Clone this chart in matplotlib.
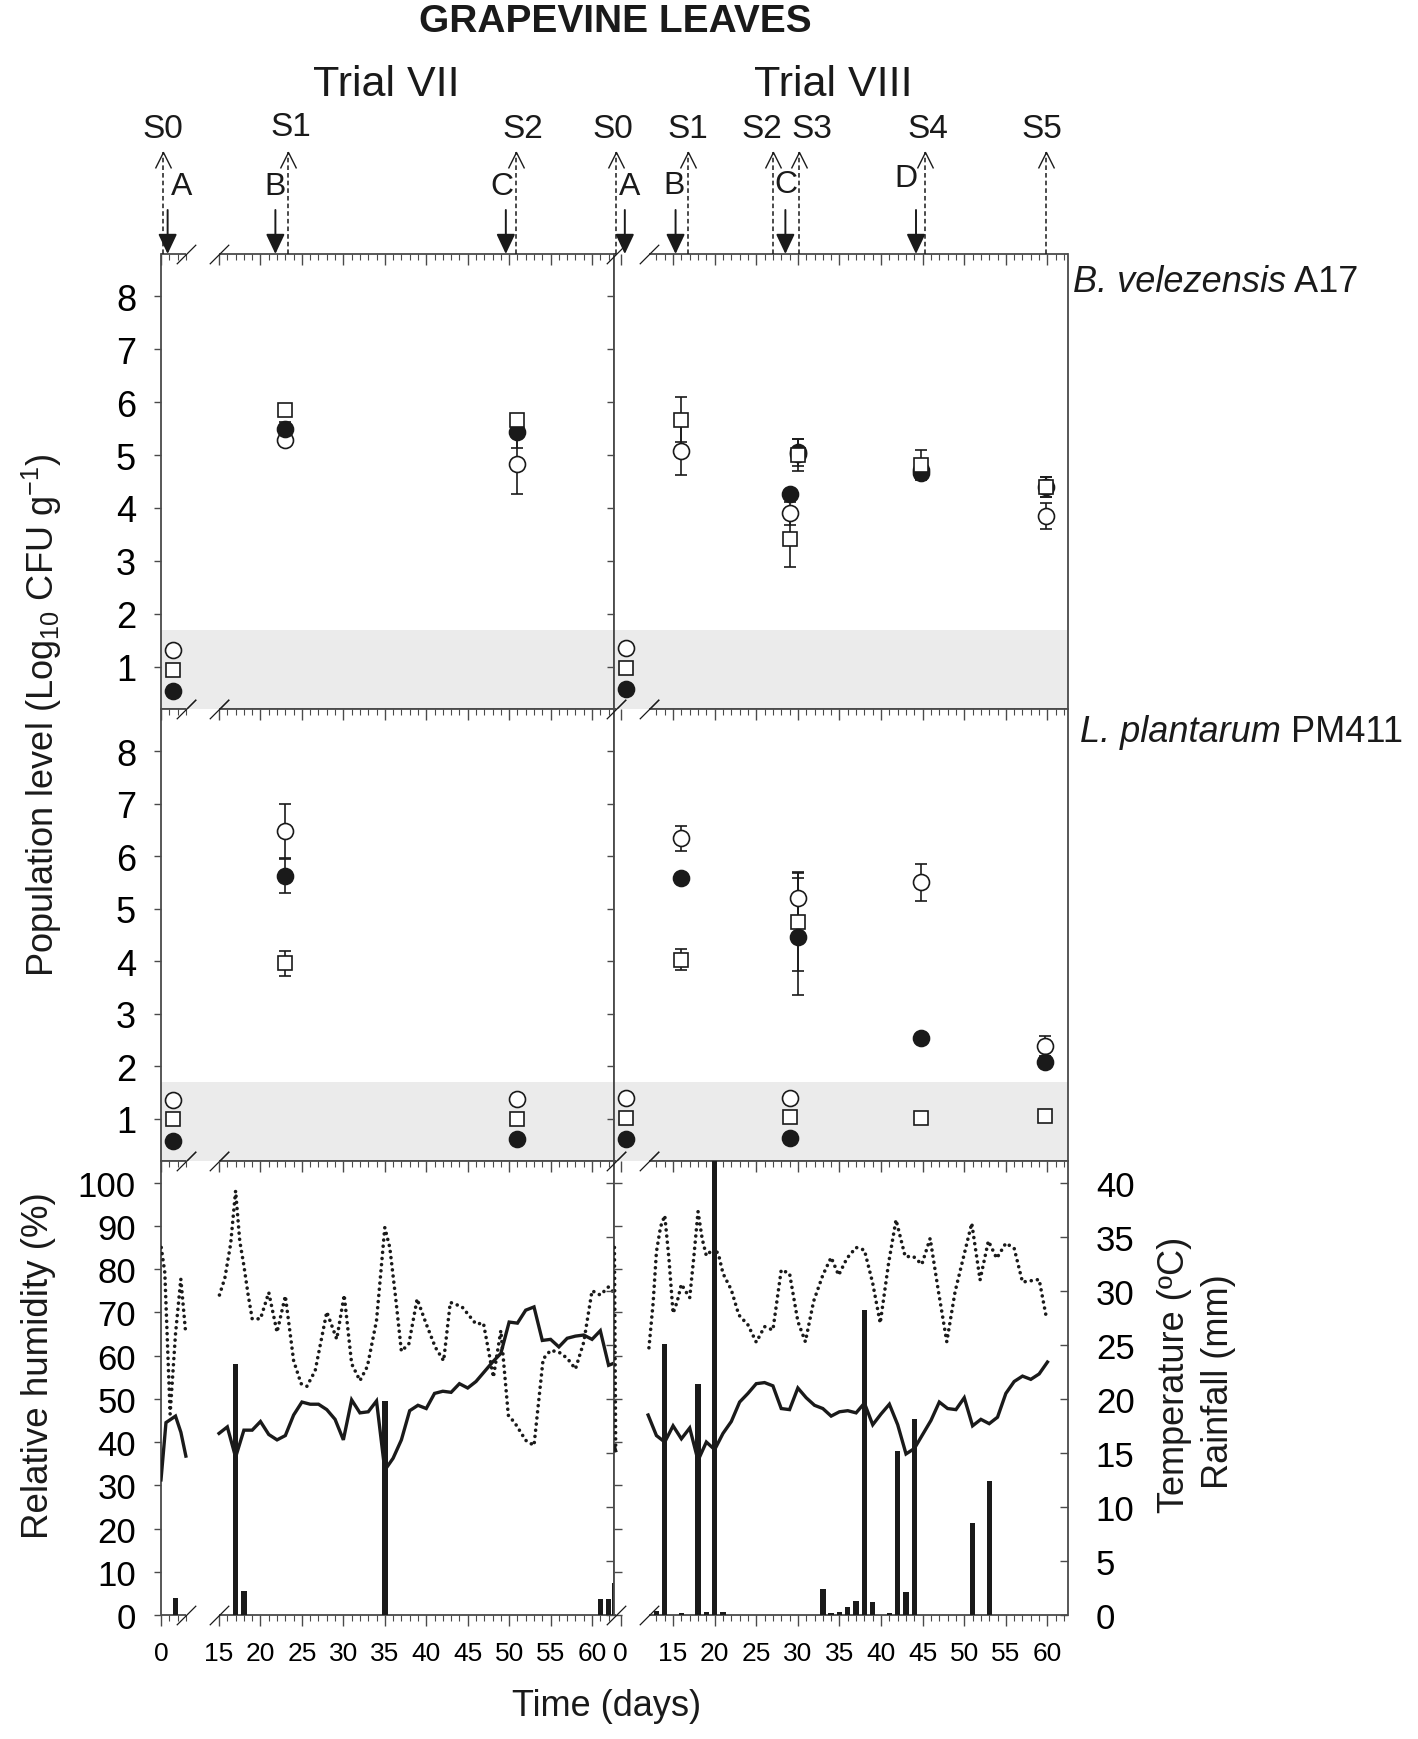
import numpy as np
import matplotlib
matplotlib.use("Agg")
import matplotlib.pyplot as plt
from matplotlib.transforms import offset_copy

plt.rcParams['font.family'] = ['Liberation Sans', 'DejaVu Sans']
plt.rcParams['mathtext.fontset'] = 'custom'
plt.rcParams['mathtext.rm'] = 'Liberation Sans'
plt.rcParams['mathtext.it'] = 'Liberation Sans:italic'
plt.rcParams['mathtext.bf'] = 'Liberation Sans:bold'

# ======================= DATA =======================
title = "GRAPEVINE LEAVES"
trial_names = ["Trial VII", "Trial VIII"]
strain_names = ["B. velezensis", "L. plantarum"]
strain_codes = [" A17", " PM411"]
pop_ylabel = r"Population level (Log$_{10}$ CFU g$^{-1}$)"
hum_label = "Relative humidity (%)"
temp_label = "Temperature (ºC)"
rain_label = "Rainfall (mm)"
xlabel = "Time (days)"

# sampling (dashed arrows) and treatments (solid arrows), in days
t7_sample_names = ["S0", "S1", "S2"]
t7_sample_days = [0.2, 23.3, 50.8]
t7_treat_names = ["A", "B", "C"]
t7_treat_days = [0.8, 21.8, 49.6]
t8_sample_names = ["S0", "S1", "S2", "S3", "S4", "S5"]
t8_sample_days = [-0.6, 16.8, 27.0, 30.1, 45.3, 59.8]
t8_treat_names = ["A", "B", "C", "D"]
t8_treat_days = [0.5, 15.3, 28.5, 44.2]

# x ticks
t7_major_ticks = [0, 15, 20, 25, 30, 35, 40, 45, 50, 55, 60]
t7_minor_ticks = [0, 1, 2, 3] + list(range(15, 63))
t8_major_ticks = [0, 15, 20, 25, 30, 35, 40, 45, 50, 55, 60]
t8_minor_ticks = [0] + list(range(13, 63))
x_tick_labels = ["0", "15", "20", "25", "30", "35", "40", "45", "50", "55", "60"]
pop_yticks = [1, 2, 3, 4, 5, 6, 7, 8]
hum_yticks = [0, 10, 20, 30, 40, 50, 60, 70, 80, 90, 100]
temp_yticks = [0, 5, 10, 15, 20, 25, 30, 35, 40]

# ---- population levels: (days, values, errors) ----
# Trial VII, B. velezensis A17
t7_bv_open = ([1.4, 23, 51], [1.32, 5.28, 4.84], [0, 0, 0.58])
t7_bv_square = ([1.4, 23, 51], [0.94, 5.85, 5.67], [0, 0, 0])
t7_bv_filled = ([1.4, 23, 51], [0.54, 5.50, 5.44], [0, 0.12, 0.30])
# Trial VIII, B. velezensis A17
t8_bv_open = ([0.7, 16, 29, 30, 44.8, 59.8], [1.35, 5.08, 3.90, 5.02, 4.72, 3.85],
              [0, 0.46, 0.22, 0, 0, 0.24])
t8_bv_square = ([0.7, 16, 29, 30, 44.8, 59.8], [0.98, 5.67, 3.41, 5.00, 4.82, 4.40],
                [0, 0.42, 0.52, 0.30, 0.28, 0.19])
t8_bv_filled = ([0.7, 29, 30, 44.8, 59.8], [0.58, 4.26, 5.05, 4.67, 4.40],
                [0, 0, 0.25, 0.14, 0.19])
# Trial VII, L. plantarum PM411
t7_lp_open = ([1.4, 23, 51], [1.37, 6.48, 1.38], [0, 0.52, 0])
t7_lp_square = ([1.4, 23, 51], [1.00, 3.96, 1.00], [0, 0.24, 0])
t7_lp_filled = ([1.4, 23, 51], [0.59, 5.62, 0.61], [0, 0.33, 0])
# Trial VIII, L. plantarum PM411
t8_lp_open = ([0.7, 16, 29, 30, 44.8, 59.7], [1.40, 6.34, 1.40, 5.20, 5.50, 2.38],
              [0, 0.24, 0, 0.48, 0.35, 0.19])
t8_lp_square = ([0.7, 16, 29, 30, 44.8, 59.7], [1.02, 4.03, 1.03, 4.75, 1.02, 1.06],
                [0, 0.20, 0, 0.94, 0, 0])
t8_lp_filled = ([0.7, 16, 29, 30, 44.8, 59.7], [0.62, 5.59, 0.63, 4.47, 2.54, 2.08],
                [0, 0, 0, 1.11, 0, 0])

# ---- weather ----
# Trial VII
t7_hum_a_days = [0.03, 0.46, 1.1, 1.75, 2.39, 2.95]
t7_hum_a = [85, 79.2, 46.5, 65, 77.7, 65.8]
t7_temp_a_days = [0, 0.6, 1.75, 2.4, 3.0]
t7_temp_a = [12.5, 17.8, 18.4, 16.9, 14.7]
t7_hum_b_days = [15.05, 15.7, 16.4, 17.0, 17.5, 18.0, 18.5, 19.0, 20.0, 21.0, 22.0, 23.0,
                 24.0, 24.9, 25.6, 26.6, 28.0, 29.2, 30.1, 31.0, 32.0, 32.9, 34.0, 35.0,
                 35.6, 36.3, 37.0, 37.9, 38.9, 40.0, 41.1, 42.1, 42.9, 44.3, 46.0, 46.9,
                 48.1, 49.0, 49.9, 50.7, 52.0, 53.0, 54.1, 55.0, 56.0, 57.0, 58.0, 59.0,
                 60.0, 61.0, 62.0, 63.0]
t7_hum_b = [74.0, 77.9, 85.8, 98.1, 86.5, 80.8, 74.2, 68.5, 68.5, 74.6, 65.4, 73.8,
            58.8, 53.5, 52.9, 56.5, 70.1, 63.8, 74.0, 58.1, 54.2, 57.5, 68.1, 89.6,
            85.0, 73.5, 61.0, 62.7, 73.1, 67.3, 61.9, 58.8, 72.3, 71.3, 67.3, 67.5,
            55.0, 65.8, 46.2, 44.4, 40.4, 39.2, 59.2, 61.2, 60.8, 59.4, 56.9, 63.1,
            75.0, 74.0, 75.9, 73.8]
t7_temp_b_days = list(range(15, 64))
t7_temp_b = [16.8, 17.4, 14.6, 17.1, 17.1, 17.9, 16.7, 16.2, 16.6, 18.5, 19.7, 19.5,
             19.5, 19.0, 18.1, 16.2, 19.9, 18.7, 18.8, 19.8, 13.4, 14.5, 16.2, 18.9,
             19.4, 19.1, 20.5, 20.7, 20.6, 21.4, 21.0, 21.6, 22.5, 23.4, 24.2, 27.1,
             27.0, 28.2, 28.5, 25.4, 25.5, 24.8, 25.6, 25.8, 25.9, 25.5, 26.3, 23.1, 23.4]
t7_rain_days = [1.75, 17, 18, 35, 61, 62, 62.7]
t7_rain = [1.6, 23.2, 2.2, 19.8, 1.5, 1.5, 3.0]
# Trial VIII
t8_hum_a_days = [-0.75, -0.6]
t8_hum_a = [85, 39]
t8_temp_a_days = [-0.75, -0.6]
t8_temp_a = [15.6, 15.2]
t8_hum_b_days = [12.1, 12.6, 13.0, 13.5, 14.0, 14.5, 15.0, 15.5, 16.0, 16.6, 17.0, 17.5,
                 18.0, 18.5, 19.0, 20.0, 20.5, 21.0, 22.0, 22.9, 24.0, 25.0, 26.0, 27.0,
                 28.0, 29.0, 30.0, 30.9, 31.9, 33.0, 34.0, 34.9, 35.9, 37.0, 38.0, 39.0,
                 39.9, 40.9, 41.8, 42.9, 43.9, 44.9, 45.9, 46.9, 47.9, 48.9, 49.9, 50.9,
                 51.9, 52.9, 53.9, 55.0, 56.0, 57.0, 58.0, 59.0, 59.8]
t8_hum_b = [61.8, 72.1, 84.0, 89.8, 92.4, 82.5, 69.8, 72.5, 76.5, 74.6, 73.4, 82.9,
            93.3, 87.0, 83.1, 85.0, 83.1, 79.0, 75.2, 69.4, 67.1, 63.1, 66.7, 65.9,
            79.8, 79.0, 67.9, 63.2, 72.6, 78.6, 82.7, 78.6, 82.5, 85.0, 84.4, 76.7,
            67.5, 81.3, 91.4, 82.9, 82.9, 81.1, 87.1, 74.8, 63.2, 74.8, 82.7, 90.6,
            77.5, 86.5, 82.5, 86.0, 84.8, 77.0, 77.3, 77.6, 69.5]
t8_temp_b_days = list(range(12, 61))
t8_temp_b = [18.5, 16.6, 16.0, 17.5, 16.3, 17.3, 14.3, 16.0, 15.3, 16.8, 17.9, 19.7,
             20.5, 21.4, 21.5, 21.2, 19.1, 19.0, 21.0, 20.1, 19.4, 19.1, 18.4, 18.8,
             18.9, 18.7, 19.6, 17.6, 18.6, 19.5, 17.6, 14.9, 15.4, 16.7, 18.0, 19.7,
             19.1, 19.0, 20.1, 17.5, 18.1, 17.7, 18.3, 20.5, 21.6, 22.1, 21.8, 22.3, 23.4]
t8_rain_days = [13, 14, 16, 18, 19, 20, 21, 33, 34, 35, 36, 37, 38, 39, 41, 42, 43, 44, 51, 53]
t8_rain = [0.37, 25.1, 0.15, 21.4, 0.25, 44, 0.25, 2.4, 0.15, 0.25, 0.7, 1.3, 28.2, 1.2,
           0.15, 15.2, 2.1, 18.1, 8.5, 12.4]

# ======================= LAYOUT / STYLE =======================
W, H = 1418, 1740
XL, XM, XR = 161, 614, 1068
ROWS = [(255, 710), (710, 1162), (1162, 1616)]
POP_YLIM = (0.2, 8.8)
LOD_TOP = 1.7
HUM_YLIM = (0, 105)
TEMP_YLIM = (0, 42)
INK = '#1a1a1a'
SPINE = '#4a4a4a'
GRAY = '#ebebeb'


def rect(x0, x1, y0, y1):
    return [x0 / W, 1 - y1 / H, (x1 - x0) / W, (y1 - y0) / H]


def piecewise(a, b, c):
    mb = b - c
    k = (mb - a) / (b - a)

    def fwd(d):
        d = np.asarray(d, dtype=float)
        return np.where(d <= a, d, np.where(d >= b, d - c, a + (d - a) * k))

    def inv(m):
        m = np.asarray(m, dtype=float)
        return np.where(m <= a, m, np.where(m >= mb, m + c, a + (m - a) / k))
    return fwd, inv


trials = [
    dict(scale=piecewise(3, 15, 8), xlim=(0.0, 62.65), breaks=(3, 15),
         major=t7_major_ticks, minor=t7_minor_ticks, x0=XL, x1=XM),
    dict(scale=piecewise(1, 12, 8.7), xlim=(-0.8, 62.47), breaks=(-0.57, 12.1),
         major=t8_major_ticks, minor=t8_minor_ticks, x0=XM, x1=XR),
]

fig = plt.figure(figsize=(W / 100, H / 100), dpi=100)
fig.patch.set_facecolor('white')

BREAK = [(-1, -1), (1, 1)]
CHEVRON = [(-1, -2), (0, 0), (1, -2)]


def setup_x(ax, tr):
    ax.set_xscale('function', functions=tr['scale'])
    ax.set_xlim(*tr['xlim'])
    ax.set_xticks(tr['major'], labels=x_tick_labels)
    ax.set_xticks(tr['minor'], minor=True)
    for s in ('top', 'bottom'):
        ax.spines[s].set_visible(False)
    for s in ('left', 'right'):
        ax.spines[s].set_color(SPINE)
        ax.spines[s].set_linewidth(1.3)
    trans = ax.get_xaxis_transform()
    segs = [(tr['xlim'][0], tr['breaks'][0]), (tr['breaks'][1], tr['xlim'][1])]
    for yy in (0, 1):
        for a, b in segs:
            ax.plot([a, b], [yy, yy], transform=trans, color=SPINE, lw=1.3,
                    clip_on=False, zorder=10, solid_capstyle='butt')
        ax.plot(list(tr['breaks']), [yy, yy], transform=trans, ls='none',
                marker=BREAK, ms=14, mew=0.9, mec=INK, clip_on=False, zorder=10)


def pop_panel(ax, series, order):
    ax.axhspan(POP_YLIM[0], LOD_TOP, color=GRAY, lw=0, zorder=0)
    styles = dict(
        open=dict(marker='o', ms=11.5, mfc='white', mec=INK, mew=1.2),
        square=dict(marker='s', ms=10, mfc='white', mec=INK, mew=1.2),
        filled=dict(marker='o', ms=11.5, mfc=INK, mec=INK, mew=1.2),
    )
    for key, (d, v, e) in series.items():
        d, v, e = np.asarray(d, float), np.asarray(v, float), np.asarray(e, float)
        m = e > 0
        if m.any():
            ax.errorbar(d[m], v[m], yerr=e[m], fmt='none', ecolor=INK, elinewidth=1.2,
                        capsize=4.3, capthick=1.2, zorder=3)
    for z, key in enumerate(order):
        d, v, e = series[key]
        ax.plot(d, v, ls='none', zorder=4 + z, **styles[key])
    ax.set_ylim(*POP_YLIM)
    ax.set_yticks(pop_yticks)


pop_data = [
    [dict(open=t7_bv_open, square=t7_bv_square, filled=t7_bv_filled),
     dict(open=t8_bv_open, square=t8_bv_square, filled=t8_bv_filled)],
    [dict(open=t7_lp_open, square=t7_lp_square, filled=t7_lp_filled),
     dict(open=t8_lp_open, square=t8_lp_square, filled=t8_lp_filled)],
]
orders = [['open', 'filled', 'square'], ['open', 'square', 'filled']]

top_axes = []
for r in range(2):
    y0, y1 = ROWS[r]
    for c, tr in enumerate(trials):
        ax = fig.add_axes(rect(tr['x0'], tr['x1'], y0, y1))
        setup_x(ax, tr)
        pop_panel(ax, pop_data[r][c], orders[r])
        ax.tick_params(axis='x', which='both', top=True, bottom=False, labelbottom=False,
                       direction='in', color=SPINE)
        ax.tick_params(axis='x', which='major', length=8, width=1)
        ax.tick_params(axis='x', which='minor', length=4, width=0.8)
        ax.tick_params(axis='y', which='both', left=True, right=False, direction='out',
                       length=5, width=1, color=SPINE, labelsize=26, pad=13,
                       labelleft=(c == 0))
        if r == 0:
            top_axes.append(ax)

# ---------------- weather panels ----------------
weather = [
    dict(hum=[(t7_hum_a_days, t7_hum_a), (t7_hum_b_days, t7_hum_b)],
         temp=[(t7_temp_a_days, t7_temp_a), (t7_temp_b_days, t7_temp_b)],
         rain=(t7_rain_days, t7_rain)),
    dict(hum=[(t8_hum_a_days, t8_hum_a), (t8_hum_b_days, t8_hum_b)],
         temp=[(t8_temp_a_days, t8_temp_a), (t8_temp_b_days, t8_temp_b)],
         rain=(t8_rain_days, t8_rain)),
]
y0, y1 = ROWS[2]
for c, tr in enumerate(trials):
    ax = fig.add_axes(rect(tr['x0'], tr['x1'], y0, y1))
    setup_x(ax, tr)
    tw = ax.twinx()
    for s in tw.spines.values():
        s.set_visible(False)
    wd = weather[c]
    for d, v in wd['hum']:
        ax.plot(d, v, color=INK, lw=2.6, ls=(0, (0.01, 1.7)), dash_capstyle='round', zorder=3)
    for d, v in wd['temp']:
        tw.plot(d, v, color=INK, lw=2.4, zorder=4, solid_joinstyle='miter')
    tw.bar(wd['rain'][0], wd['rain'][1], width=0.65, color=INK, lw=0, zorder=3)
    ax.set_ylim(*HUM_YLIM)
    tw.set_ylim(*TEMP_YLIM)
    ax.set_yticks(hum_yticks)
    tw.set_yticks(temp_yticks)
    ax.tick_params(axis='x', which='both', top=False, bottom=True, direction='out',
                   color=SPINE, labelsize=19, pad=11)
    ax.tick_params(axis='x', which='major', length=8, width=1)
    ax.tick_params(axis='x', which='minor', length=4, width=0.8)
    tw.xaxis.set_visible(True)
    tw.tick_params(axis='x', which='both', top=True, bottom=False, labelbottom=False,
                   labeltop=False, direction='in', color=SPINE)
    tw.tick_params(axis='x', which='major', length=8, width=1)
    tw.tick_params(axis='x', which='minor', length=4, width=0.8)
    if c == 0:
        ax.tick_params(axis='y', left=True, right=False, direction='out', length=5, width=1,
                       color=SPINE, labelsize=25, pad=13)
        tw.tick_params(axis='y', left=False, right=True, direction='in', length=6, width=1,
                       color=SPINE, labelright=False)
    else:
        ax.tick_params(axis='y', left=True, right=False, direction='in', length=6, width=1,
                       color=SPINE, labelleft=False)
        tw.tick_params(axis='y', left=False, right=True, direction='in', length=6, width=1,
                       color=SPINE, labelsize=25, pad=20)

# ---------------- arrows above the top row ----------------
TOP_Y0, TOP_Y1 = ROWS[0]


def yfrac(ypx):
    return (TOP_Y1 - ypx) / (TOP_Y1 - TOP_Y0)


arrow_sets = [
    (t7_sample_names, t7_sample_days, [0, 3, 7], t7_treat_names, t7_treat_days, [14, 0, -4],
     [187, 187, 187], [130, 128, 130]),
    (t8_sample_names, t8_sample_days, [-3, 0, -11, 13, 3, -4], t8_treat_names, t8_treat_days,
     [5, -2, 1, -10], [187, 186, 185, 179], [130, 130, 130, 130, 130, 130]),
]
for ax, (snames, sdays, soff, tnames, tdays, toff, ty, sy) in zip(top_axes, arrow_sets):
    trans = ax.get_xaxis_transform()
    for name, d, off, yy in zip(snames, sdays, soff, sy):
        ax.plot([d, d], [1, yfrac(153)], transform=trans, color=INK, lw=1.1,
                ls=(0, (3, 2)), clip_on=False, zorder=11)
        ax.plot([d], [yfrac(153)], transform=trans, ls='none', marker=CHEVRON, ms=23,
                mew=1.0, mec=INK, mfc='none', clip_on=False, zorder=11)
        ax.text(d, yfrac(yy), name, transform=offset_copy(trans, fig=fig, x=off, units='dots'),
                ha='center', va='center', fontsize=24, color=INK)
    for name, d, off, yy in zip(tnames, tdays, toff, ty):
        ax.annotate('', xy=(d, 1.0), xytext=(d, yfrac(211)), xycoords=trans, textcoords=trans,
                    arrowprops=dict(arrowstyle='-|>,head_length=1.0,head_width=0.47',
                                    mutation_scale=12.2, lw=1.4, color=INK,
                                    shrinkA=0, shrinkB=0), annotation_clip=False, zorder=12)
        ax.text(d, yfrac(yy), name, transform=offset_copy(trans, fig=fig, x=off, units='dots'),
                ha='center', va='center', fontsize=23, color=INK)

# ---------------- texts ----------------
fig.text(615 / W, 1 - 22 / H, title, ha='center', va='center', fontsize=28,
         fontweight='bold', color=INK)
fig.text(386 / W, 1 - 85 / H, trial_names[0], ha='center', va='center', fontsize=31, color=INK)
fig.text(833 / W, 1 - 85 / H, trial_names[1], ha='center', va='center', fontsize=31, color=INK)
for name, code, xpx, ypx in zip(strain_names, strain_codes, [1073, 1080], [283, 733]):
    t = fig.text(xpx / W, 1 - ypx / H, name, ha='left', va='center', fontsize=26,
                 fontstyle='italic', color=INK)
    fig.add_artist(matplotlib.text.Annotation(code, xy=(1, 0.5), xycoords=t, ha='left',
                                              va='center', fontsize=26, color=INK))
fig.text(42 / W, 1 - 715 / H, pop_ylabel, rotation=90, ha='center', va='center',
         fontsize=26, color=INK)
fig.text(39 / W, 1 - 1366 / H, hum_label, rotation=90, ha='center', va='center',
         fontsize=26.5, color=INK)
fig.text(1174 / W, 1 - 1375 / H, temp_label, rotation=90, ha='center', va='center',
         fontsize=26, color=INK)
fig.text(1219 / W, 1 - 1382 / H, rain_label, rotation=90, ha='center', va='center',
         fontsize=26, color=INK)
fig.text(607 / W, 1 - 1707 / H, xlabel, ha='center', va='center', fontsize=26, color=INK)

fig.savefig('out.png', dpi=100, facecolor='white')
